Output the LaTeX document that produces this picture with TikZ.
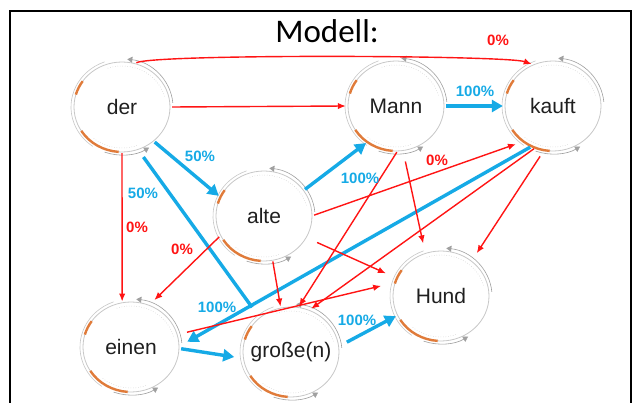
\documentclass[tikz,border=0pt]{standalone}
\usepackage{fontspec}
\setmainfont{Liberation Sans}
\newfontfamily\titlefont{Carlito}
\usetikzlibrary{arrows.meta,shapes.geometric}

\definecolor{edgered}{RGB}{255,20,20}
\definecolor{edgeblue}{RGB}{22,170,230}
\definecolor{ringorange}{RGB}{224,123,58}
\definecolor{ringgray}{RGB}{200,200,200}
\definecolor{tipgray}{RGB}{160,160,160}

\tikzset{
  word/.style={ellipse, minimum width=100pt, minimum height=92pt, inner sep=0pt,
    font=\fontsize{21}{25}\selectfont, text=black!88},
  redarrow/.style={draw=edgered, line width=1.4pt, -{Latex[length=8pt,width=6.5pt]}},
  bluearrow/.style={draw=edgeblue, line width=3.4pt, -{Triangle[length=11pt,width=12pt]}},
  blueline/.style={draw=edgeblue, line width=3.4pt},
  redlabel/.style={text=edgered, font=\bfseries\fontsize{15}{18}\selectfont},
  bluelabel/.style={text=edgeblue, font=\bfseries\fontsize{15}{18}\selectfont},
  % ring ornament around every word: base ring, return arrows, dotted guides, orange marks
  ring/.pic={
    \begin{scope}[yscale=-1]
      \draw[ringgray, line width=0.8pt] (0,0) ellipse [x radius=48, y radius=45];
      \draw[ringgray, line width=0.6pt] ({51*cos(110)},{48*sin(110)})
        arc[start angle=110, end angle=235, x radius=51, y radius=48];
      \draw[ringgray!80!black, line width=0.6pt, -{Triangle[length=5pt,width=6pt,color=tipgray]}]
        ({51*cos(5)},{48*sin(5)}) arc[start angle=5, end angle=84, x radius=51, y radius=48];
      \draw[ringgray!80!black, line width=0.6pt, -{Triangle[length=5pt,width=6pt,color=tipgray]}]
        ({51*cos(250)},{48*sin(250)}) arc[start angle=250, end angle=302, x radius=51, y radius=48];
      \draw[ringgray, line width=0.5pt, dotted] ({44*cos(15)},{41*sin(15)})
        arc[start angle=15, end angle=110, x radius=44, y radius=41];
      \draw[ringgray, line width=0.5pt, dotted] ({44*cos(230)},{41*sin(230)})
        arc[start angle=230, end angle=292, x radius=44, y radius=41];
      \draw[ringorange, line width=2.4pt] ({48*cos(145)},{45*sin(145)})
        arc[start angle=145, end angle=164, x radius=48, y radius=45];
      \draw[ringorange, line width=2.4pt] ({48*cos(212)},{45*sin(212)})
        arc[start angle=212, end angle=266, x radius=48, y radius=45];
    \end{scope}
  }
}

\begin{document}
\begin{tikzpicture}[x=1pt, y=-1pt]
  \fill[white] (0,0) rectangle (634,403);
  \useasboundingbox (0,0) rectangle (634,403);

  % frame
  \draw[line width=1.5pt] (10,403) -- (10,11) -- (631,11) -- (631,403);

  \node[font=\titlefont\fontsize{33}{38}\selectfont] (title) at (327,31) {Modell:};

  % words
  \node[word] (der)    at (122,107) {der};
  \node[word] (Mann)   at (396,106) {Mann};
  \node[word] (kauft)  at (553,106) {kauft};
  \node[word] (alte)   at (264,216) {alte};
  \node[word] (einen)  at (131,347) {einen};
  \node[word] (grosse) at (291,352) {große(n)};
  \node[word] (Hund)   at (441,296) {Hund};

  \foreach \w in {der,Mann,kauft,alte,einen,grosse,Hund}
    \pic at (\w) {ring};

  % strong transitions
  \draw[bluearrow] (der.313) -- (alte.156);
  \draw[blueline, shorten <=8pt, shorten >=9pt] (der.291) -- (grosse.132);
  \draw[bluearrow] (alte.33) -- (Mann.231);
  \draw[bluearrow] (Mann.east) -- (kauft.west);
  \draw[bluearrow, shorten >=7pt] (kauft.241) -- (einen.2);
  \draw[bluearrow] (einen.-2) -- (grosse.185);
  \draw[bluearrow] (grosse.10) -- (Hund.204);

  % unused transitions
  \draw[redarrow] (der.72) .. controls +(18,-9) and +(-25,-9) .. (kauft.117);
  \draw[redarrow] (der.east) -- (Mann.west);
  \draw[redarrow] (der.south) -- (einen.101);
  \draw[redarrow, shorten >=6pt] (alte.205) -- (einen.66);
  \draw[redarrow, shorten >=6pt] (alte.1) -- (kauft.229);
  \draw[redarrow, shorten <=10pt, shorten >=10pt] (alte.333) -- (Hund.158);
  \draw[redarrow] (alte.281) -- (grosse.103);
  \draw[redarrow, shorten <=10pt, shorten >=9pt] (Mann.279) -- (Hund.110);
  \draw[redarrow] (Mann.271) -- (grosse.80);
  \draw[redarrow] (kauft.246) -- (grosse.65);
  \draw[redarrow, shorten <=6pt, shorten >=8pt] (kauft.258) -- (Hund.49);
  \draw[redarrow, shorten <=8pt, shorten >=12pt] (einen.15) -- (Hund.165);

  % probabilities
  \node[redlabel]  (p1)  at (498,40)  {0\%};
  \node[bluelabel] (p2)  at (475,91)  {100\%};
  \node[bluelabel] (p3)  at (200,156) {50\%};
  \node[redlabel]  (p4)  at (437,160) {0\%};
  \node[bluelabel] (p5)  at (360,178) {100\%};
  \node[bluelabel] (p6)  at (143,193) {50\%};
  \node[redlabel]  (p7)  at (137,227) {0\%};
  \node[redlabel]  (p8)  at (182,249) {0\%};
  \node[bluelabel] (p9)  at (217,307) {100\%};
  \node[bluelabel] (p10) at (357,320) {100\%};
\end{tikzpicture}
\end{document}
